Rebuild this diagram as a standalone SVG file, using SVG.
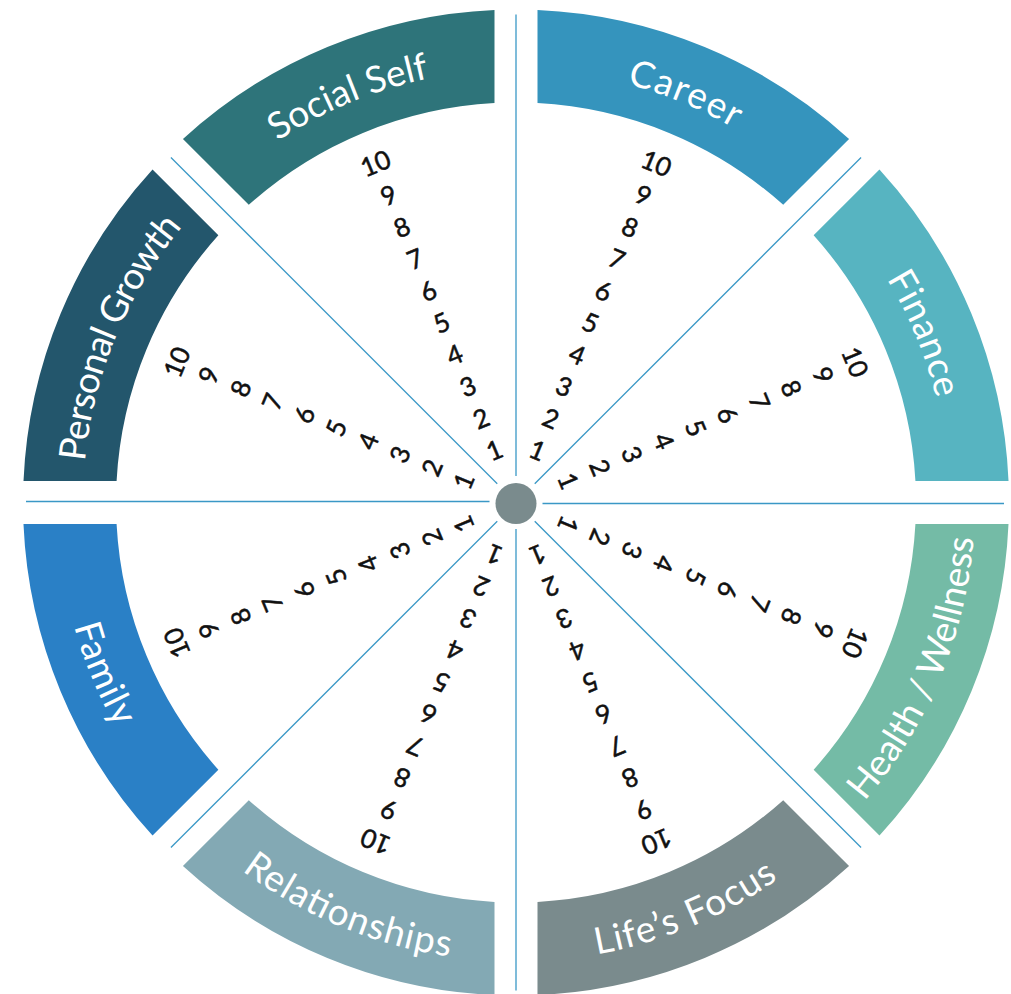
<svg xmlns="http://www.w3.org/2000/svg" xmlns:xlink="http://www.w3.org/1999/xlink" width="1011" height="994" viewBox="0 0 1011 994">
<style>
.lbl{font-family:Lato,"Open Sans","Liberation Sans",sans-serif;font-size:37px;fill:#ffffff}
.num{font-family:Lato,"Open Sans","Liberation Sans",sans-serif;font-size:26px;fill:#111111;stroke:#111111;stroke-width:0.5;text-anchor:middle}
.div{stroke:#3a98c6;stroke-width:1.3;fill:none}
</style>
<defs>
<path id="seg" d="M537.5,103.08 L537.5,10 A493,493 0 0 1 849.07,139.03 L783.23,204.86 A400,400 0 0 0 537.5,103.08 Z"/>
<path id="arcTop" d="M350.30,102.46 A433,433 0 0 1 916.04,336.80" fill="none"/>
<path id="arcBot" d="M940.06,326.85 A459,459 0 0 0 340.35,78.44" fill="none"/>
</defs>
<rect width="1011" height="994" fill="#ffffff"/>

<g id="connectors">
<line class="div" x1="516" y1="476" x2="516" y2="14.5"/>
<line class="div" x1="534.74" y1="483.76" x2="861.07" y2="157.43"/>
<line class="div" x1="542.5" y1="503.5" x2="1004" y2="503.5"/>
<line class="div" x1="534.74" y1="521.26" x2="861.07" y2="847.57"/>
<line class="div" x1="516" y1="529" x2="516" y2="990.5"/>
<line class="div" x1="497.26" y1="521.26" x2="170.93" y2="847.57"/>
<line class="div" x1="489.5" y1="501.5" x2="26" y2="501.5"/>
<line class="div" x1="497.26" y1="483.76" x2="170.93" y2="157.43"/>
</g>

<g id="career">
<use href="#seg" fill="#3594bd"/>
<text class="lbl"><textPath href="#arcTop" startOffset="50%" text-anchor="middle" textLength="116">Career</textPath></text>
<g transform="rotate(22.5 516 502.5)">
<text class="num" x="516" y="455.3">1</text><text class="num" x="516" y="420.8">2</text><text class="num" x="516" y="386.3">3</text><text class="num" x="516" y="351.8">4</text><text class="num" x="516" y="317.3">5</text><text class="num" x="516" y="282.8">6</text><text class="num" x="516" y="248.3">7</text><text class="num" x="516" y="213.8">8</text><text class="num" x="516" y="179.3">9</text><text class="num" x="516" y="144.8">10</text>
</g>
</g>

<g id="finance" transform="rotate(45 516 502.5)">
<use href="#seg" fill="#57b4c1"/>
<text class="lbl"><textPath href="#arcTop" startOffset="50%" text-anchor="middle" textLength="130">Finance</textPath></text>
<g transform="rotate(22.5 516 502.5)">
<text class="num" x="516" y="455.3">1</text><text class="num" x="516" y="420.8">2</text><text class="num" x="516" y="386.3">3</text><text class="num" x="516" y="351.8">4</text><text class="num" x="516" y="317.3">5</text><text class="num" x="516" y="282.8">6</text><text class="num" x="516" y="248.3">7</text><text class="num" x="516" y="213.8">8</text><text class="num" x="516" y="179.3">9</text><text class="num" x="516" y="144.8">10</text>
</g>
</g>

<g id="health-wellness" transform="rotate(90 516 502.5)">
<use href="#seg" fill="#74bba6"/>
<text class="lbl"><textPath href="#arcBot" startOffset="50%" text-anchor="middle" textLength="290">Health / Wellness</textPath></text>
<g transform="rotate(22.5 516 502.5)">
<text class="num" x="516" y="455.3">1</text><text class="num" x="516" y="420.8">2</text><text class="num" x="516" y="386.3">3</text><text class="num" x="516" y="351.8">4</text><text class="num" x="516" y="317.3">5</text><text class="num" x="516" y="282.8">6</text><text class="num" x="516" y="248.3">7</text><text class="num" x="516" y="213.8">8</text><text class="num" x="516" y="179.3">9</text><text class="num" x="516" y="144.8">10</text>
</g>
</g>

<g id="lifes-focus" transform="rotate(135 516 502.5)">
<use href="#seg" fill="#7a8b8d"/>
<text class="lbl"><textPath href="#arcBot" startOffset="50%" text-anchor="middle" textLength="198">Life’s Focus</textPath></text>
<g transform="rotate(22.5 516 502.5)">
<text class="num" x="516" y="455.3">1</text><text class="num" x="516" y="420.8">2</text><text class="num" x="516" y="386.3">3</text><text class="num" x="516" y="351.8">4</text><text class="num" x="516" y="317.3">5</text><text class="num" x="516" y="282.8">6</text><text class="num" x="516" y="248.3">7</text><text class="num" x="516" y="213.8">8</text><text class="num" x="516" y="179.3">9</text><text class="num" x="516" y="144.8">10</text>
</g>
</g>

<g id="relationships" transform="rotate(180 516 502.5)">
<use href="#seg" fill="#83a9b4"/>
<text class="lbl"><textPath href="#arcBot" startOffset="50%" text-anchor="middle" textLength="227">Relationships</textPath></text>
<g transform="rotate(22.5 516 502.5)">
<text class="num" x="516" y="455.3">1</text><text class="num" x="516" y="420.8">2</text><text class="num" x="516" y="386.3">3</text><text class="num" x="516" y="351.8">4</text><text class="num" x="516" y="317.3">5</text><text class="num" x="516" y="282.8">6</text><text class="num" x="516" y="248.3">7</text><text class="num" x="516" y="213.8">8</text><text class="num" x="516" y="179.3">9</text><text class="num" x="516" y="144.8">10</text>
</g>
</g>

<g id="family" transform="rotate(225 516 502.5)">
<use href="#seg" fill="#2a80c6"/>
<text class="lbl"><textPath href="#arcBot" startOffset="50%" text-anchor="middle" textLength="110">Family</textPath></text>
<g transform="rotate(22.5 516 502.5)">
<text class="num" x="516" y="455.3">1</text><text class="num" x="516" y="420.8">2</text><text class="num" x="516" y="386.3">3</text><text class="num" x="516" y="351.8">4</text><text class="num" x="516" y="317.3">5</text><text class="num" x="516" y="282.8">6</text><text class="num" x="516" y="248.3">7</text><text class="num" x="516" y="213.8">8</text><text class="num" x="516" y="179.3">9</text><text class="num" x="516" y="144.8">10</text>
</g>
</g>

<g id="personal-growth" transform="rotate(270 516 502.5)">
<use href="#seg" fill="#23566c"/>
<text class="lbl"><textPath href="#arcTop" startOffset="50%" text-anchor="middle" textLength="258">Personal Growth</textPath></text>
<g transform="rotate(22.5 516 502.5)">
<text class="num" x="516" y="455.3">1</text><text class="num" x="516" y="420.8">2</text><text class="num" x="516" y="386.3">3</text><text class="num" x="516" y="351.8">4</text><text class="num" x="516" y="317.3">5</text><text class="num" x="516" y="282.8">6</text><text class="num" x="516" y="248.3">7</text><text class="num" x="516" y="213.8">8</text><text class="num" x="516" y="179.3">9</text><text class="num" x="516" y="144.8">10</text>
</g>
</g>

<g id="social-self" transform="rotate(315 516 502.5)">
<use href="#seg" fill="#2e747a"/>
<text class="lbl"><textPath href="#arcTop" startOffset="50%" text-anchor="middle" textLength="165">Social Self</textPath></text>
<g transform="rotate(22.5 516 502.5)">
<text class="num" x="516" y="455.3">1</text><text class="num" x="516" y="420.8">2</text><text class="num" x="516" y="386.3">3</text><text class="num" x="516" y="351.8">4</text><text class="num" x="516" y="317.3">5</text><text class="num" x="516" y="282.8">6</text><text class="num" x="516" y="248.3">7</text><text class="num" x="516" y="213.8">8</text><text class="num" x="516" y="179.3">9</text><text class="num" x="516" y="144.8">10</text>
</g>
</g>

<g id="hub">
<circle cx="516" cy="503.5" r="20.5" fill="#7a8b8d"/>
</g>
</svg>
